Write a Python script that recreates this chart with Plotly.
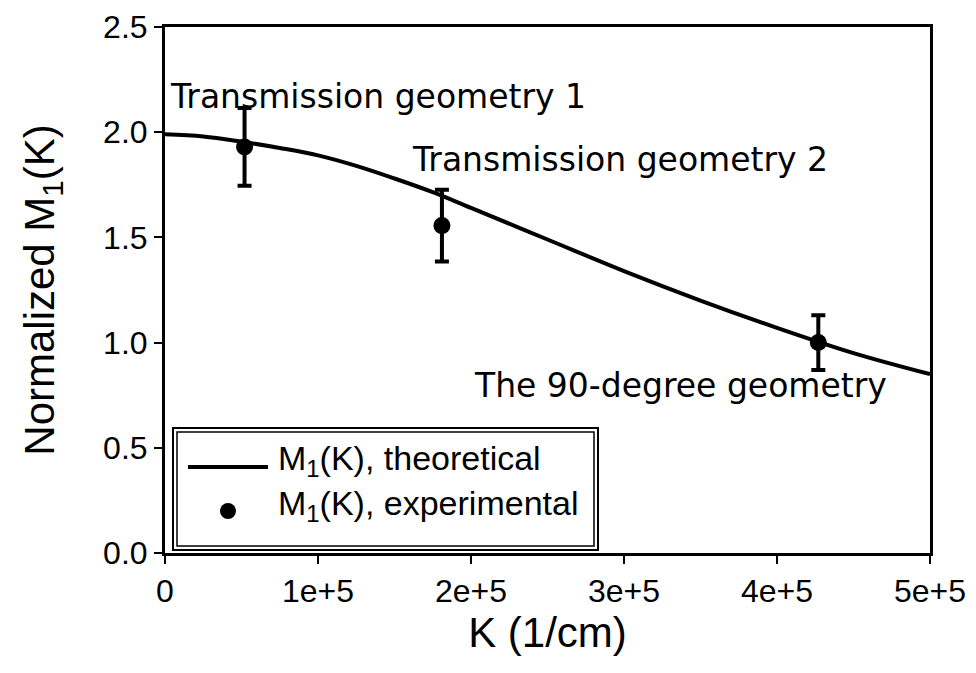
import plotly.graph_objects as go

# Theoretical normalized first moment M1(K)
k_theory = [0, 25000, 50000, 75000, 100000, 125000, 150000, 175000, 200000,
            250000, 300000, 350000, 400000, 450000, 500000]
m_theory = [1.99, 1.98, 1.955, 1.925, 1.89, 1.84, 1.78, 1.715, 1.64,
            1.49, 1.34, 1.20, 1.07, 0.95, 0.85]

# Experimental points with error bars
k_exp = [52000, 181000, 427000]
m_exp = [1.93, 1.556, 1.0]
m_err = [0.185, 0.17, 0.13]

x_tickvals = [0, 100000, 200000, 300000, 400000, 500000]
x_ticktext = ["0", "1e+5", "2e+5", "3e+5", "4e+5", "5e+5"]

# Geometry labels: (text, K, M) anchored at left-middle
geom_labels = [
    ("Transmission geometry 1", 2000, 2.172),
    ("Transmission geometry 2", 160000, 1.868),
    ("The 90-degree geometry", 200600, 0.798),
]

W, H = 976, 673
L, R, T, B = 165, 46, 27, 120
PW, PH = W - L - R, H - T - B


def px(x):
    return (x - L) / PW


def py(y):
    return (H - B - y) / PH


fig = go.Figure()

fig.add_trace(go.Scatter(
    x=k_theory, y=m_theory, mode="lines",
    line=dict(color="black", width=4, shape="spline", smoothing=1.0),
    name="M<sub>1</sub>(K), theoretical", showlegend=False,
))

fig.add_trace(go.Scatter(
    x=k_exp, y=m_exp, mode="markers",
    marker=dict(color="black", size=17),
    error_y=dict(type="data", array=m_err, visible=True,
                 color="black", thickness=4, width=7),
    name="M<sub>1</sub>(K), experimental", showlegend=False,
    cliponaxis=False,
))

label_font = dict(family="DejaVu Sans", size=33, color="black")
for text, kx, my in geom_labels:
    fig.add_annotation(x=kx, y=my, xref="x", yref="y", text=text,
                       showarrow=False, xanchor="left", yanchor="middle",
                       font=label_font)

# Legend box with double border
fig.add_shape(type="rect", xref="paper", yref="paper",
              x0=px(173), x1=px(598), y0=py(550), y1=py(428),
              line=dict(color="black", width=2), fillcolor="white", layer="above")
fig.add_shape(type="rect", xref="paper", yref="paper",
              x0=px(177), x1=px(594), y0=py(546), y1=py(432),
              line=dict(color="black", width=1.5), layer="above")
fig.add_shape(type="line", xref="paper", yref="paper",
              x0=px(188), x1=px(268), y0=py(467), y1=py(467),
              line=dict(color="black", width=4), layer="above")
r = 8
fig.add_shape(type="circle", xref="paper", yref="paper",
              x0=px(228 - r), x1=px(228 + r), y0=py(511 + r), y1=py(511 - r),
              line=dict(color="black", width=0), fillcolor="black", layer="above")

legend_font = dict(family="Liberation Sans", size=34, color="black")
fig.add_annotation(x=px(276), y=py(460), xref="paper", yref="paper",
                   text="M<sub>1</sub>(K), theoretical", showarrow=False,
                   xanchor="left", yanchor="middle", font=legend_font)
fig.add_annotation(x=px(276), y=py(505), xref="paper", yref="paper",
                   text="M<sub>1</sub>(K), experimental", showarrow=False,
                   xanchor="left", yanchor="middle", font=legend_font)

axis_common = dict(
    showline=True, linecolor="black", linewidth=3, mirror=True,
    ticks="outside", ticklen=8, tickwidth=2, tickcolor="black",
    showgrid=False, zeroline=False,
    tickfont=dict(family="Liberation Sans", size=32, color="black"),
)

fig.update_xaxes(
    range=[0, 500000], tickvals=x_tickvals, ticktext=x_ticktext,
    title=dict(text="K (1/cm)", standoff=8,
               font=dict(family="Liberation Sans", size=42, color="black")),
    **axis_common,
)
fig.update_yaxes(
    range=[0, 2.5], dtick=0.5, tickformat=".1f",
    title=dict(text="Normalized M<sub>1</sub>(K)", standoff=36,
               font=dict(family="Liberation Sans", size=42, color="black")),
    **axis_common,
)

fig.update_layout(
    width=W, height=H,
    margin=dict(l=L, r=R, t=T, b=B, autoexpand=False),
    plot_bgcolor="white", paper_bgcolor="white",
    showlegend=False,
)

fig.write_html("out.html")
